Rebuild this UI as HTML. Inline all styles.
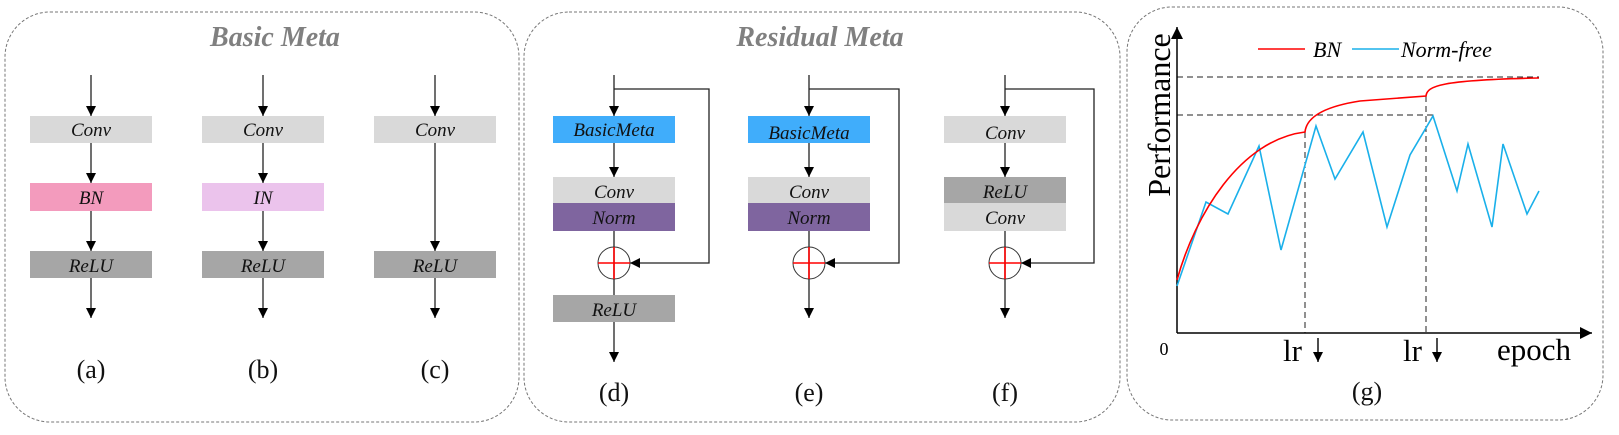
<!DOCTYPE html>
<html><head><meta charset="utf-8"><style>
html,body{margin:0;padding:0;background:#fff;}
svg{display:block;}
text{font-family:"Liberation Serif",serif;}
.bt{font-style:italic;font-size:19px;text-anchor:middle;fill:#111;}
.lb{font-size:26px;text-anchor:middle;fill:#111;}
.tt{font-style:italic;font-weight:bold;font-size:28px;text-anchor:middle;fill:#808080;}
</style></head><body>
<svg width="1619" height="435" viewBox="0 0 1619 435" xmlns="http://www.w3.org/2000/svg">
<defs>
<marker id="ah" viewBox="0 0 10 10" refX="10" refY="5" markerWidth="10" markerHeight="11" markerUnits="userSpaceOnUse" orient="auto"><path d="M0,0 L10,5 L0,10 z" fill="#000"/></marker>
<marker id="ah2" viewBox="0 0 10 10" refX="10" refY="5" markerWidth="13" markerHeight="12" markerUnits="userSpaceOnUse" orient="auto"><path d="M0,0 L10,5 L0,10 z" fill="#000"/></marker>
</defs>
<g fill="none" stroke="#777" stroke-width="1" stroke-dasharray="3,2">
<rect x="5" y="12" width="514" height="410" rx="45"/>
<rect x="524" y="12" width="596" height="410" rx="45"/>
<rect x="1127" y="7" width="476" height="413" rx="45"/>
</g>
<text class="tt" x="275" y="46">Basic Meta</text>
<text class="tt" x="820" y="46">Residual Meta</text>

<g stroke="#222" stroke-width="1.3" fill="none" marker-end="url(#ah)">
<line x1="91" y1="75" x2="91" y2="116"/><line x1="91" y1="143" x2="91" y2="183"/><line x1="91" y1="211" x2="91" y2="251"/><line x1="91" y1="278" x2="91" y2="318"/>
<line x1="263" y1="75" x2="263" y2="116"/><line x1="263" y1="143" x2="263" y2="183"/><line x1="263" y1="211" x2="263" y2="251"/><line x1="263" y1="278" x2="263" y2="318"/>
<line x1="435" y1="75" x2="435" y2="116"/><line x1="435" y1="143" x2="435" y2="251"/><line x1="435" y1="278" x2="435" y2="318"/>
</g>
<g>
<rect x="30" y="116" width="122" height="27" fill="#d9d9d9"/><text class="bt" x="91" y="136">Conv</text>
<rect x="30" y="183" width="122" height="28" fill="#f39bbd"/><text class="bt" x="91" y="204">BN</text>
<rect x="30" y="251" width="122" height="27" fill="#a6a6a6"/><text class="bt" x="91" y="272">ReLU</text>
<rect x="202" y="116" width="122" height="27" fill="#d9d9d9"/><text class="bt" x="263" y="136">Conv</text>
<rect x="202" y="183" width="122" height="28" fill="#ebc3ec"/><text class="bt" x="263" y="204">IN</text>
<rect x="202" y="251" width="122" height="27" fill="#a6a6a6"/><text class="bt" x="263" y="272">ReLU</text>
<rect x="374" y="116" width="122" height="27" fill="#d9d9d9"/><text class="bt" x="435" y="136">Conv</text>
<rect x="374" y="251" width="122" height="27" fill="#a6a6a6"/><text class="bt" x="435" y="272">ReLU</text>
</g>
<text class="lb" x="91" y="378">(a)</text>
<text class="lb" x="263" y="378">(b)</text>
<text class="lb" x="435" y="378">(c)</text>

<g stroke="#222" stroke-width="1.3" fill="none">
<line x1="614" y1="75" x2="614" y2="116" marker-end="url(#ah)"/>
<polyline points="614,89 709,89 709,263 630,263" marker-end="url(#ah)"/>
<line x1="614" y1="143" x2="614" y2="177" marker-end="url(#ah)"/>
<line x1="614" y1="231" x2="614" y2="295"/>
<line x1="614" y1="322" x2="614" y2="362" marker-end="url(#ah)"/>
<line x1="809" y1="75" x2="809" y2="116" marker-end="url(#ah)"/>
<polyline points="809,89 899,89 899,263 825,263" marker-end="url(#ah)"/>
<line x1="809" y1="143" x2="809" y2="177" marker-end="url(#ah)"/>
<line x1="809" y1="231" x2="809" y2="318" marker-end="url(#ah)"/>
<line x1="1005" y1="75" x2="1005" y2="116" marker-end="url(#ah)"/>
<polyline points="1005,89 1094,89 1094,263 1021,263" marker-end="url(#ah)"/>
<line x1="1005" y1="143" x2="1005" y2="177" marker-end="url(#ah)"/>
<line x1="1005" y1="231" x2="1005" y2="318" marker-end="url(#ah)"/>
</g>
<g>
<rect x="553" y="116" width="122" height="27" fill="#40adfb"/><text class="bt" x="614" y="136">BasicMeta</text>
<rect x="553" y="177" width="122" height="26" fill="#d9d9d9"/><text class="bt" x="614" y="198">Conv</text>
<rect x="553" y="203" width="122" height="28" fill="#7f659f"/><text class="bt" x="614" y="224">Norm</text>
<rect x="553" y="295" width="122" height="27" fill="#a6a6a6"/><text class="bt" x="614" y="316">ReLU</text>
<rect x="748" y="116" width="122" height="27" fill="#40adfb"/><text class="bt" x="809" y="139">BasicMeta</text>
<rect x="748" y="177" width="122" height="26" fill="#d9d9d9"/><text class="bt" x="809" y="198">Conv</text>
<rect x="748" y="203" width="122" height="28" fill="#7f659f"/><text class="bt" x="809" y="224">Norm</text>
<rect x="944" y="116" width="122" height="27" fill="#d9d9d9"/><text class="bt" x="1005" y="139">Conv</text>
<rect x="944" y="177" width="122" height="26" fill="#a6a6a6"/><text class="bt" x="1005" y="198">ReLU</text>
<rect x="944" y="203" width="122" height="28" fill="#d9d9d9"/><text class="bt" x="1005" y="224">Conv</text>
</g>
<g fill="none">
<circle cx="614" cy="263" r="16" stroke="#333" stroke-width="1"/><line x1="598" y1="263" x2="630" y2="263" stroke="#f00" stroke-width="1.6"/><line x1="614" y1="247" x2="614" y2="279" stroke="#f00" stroke-width="1.6"/>
<circle cx="809" cy="263" r="16" stroke="#333" stroke-width="1"/><line x1="793" y1="263" x2="825" y2="263" stroke="#f00" stroke-width="1.6"/><line x1="809" y1="247" x2="809" y2="279" stroke="#f00" stroke-width="1.6"/>
<circle cx="1005" cy="263" r="16" stroke="#333" stroke-width="1"/><line x1="989" y1="263" x2="1021" y2="263" stroke="#f00" stroke-width="1.6"/><line x1="1005" y1="247" x2="1005" y2="279" stroke="#f00" stroke-width="1.6"/>
</g>
<text class="lb" x="614" y="401">(d)</text>
<text class="lb" x="809" y="401">(e)</text>
<text class="lb" x="1005" y="401">(f)</text>

<g stroke="#222" stroke-width="1" stroke-dasharray="6,4" fill="none">
<line x1="1177" y1="77" x2="1539" y2="77"/>
<line x1="1177" y1="115" x2="1433" y2="115"/>
<line x1="1305" y1="132" x2="1305" y2="333"/>
<line x1="1426" y1="96" x2="1426" y2="333"/>
</g>
<g stroke="#000" stroke-width="1.5" fill="none">
<line x1="1177" y1="333" x2="1177" y2="27" marker-end="url(#ah2)"/>
<line x1="1177" y1="333" x2="1592" y2="333" marker-end="url(#ah2)"/>
</g>
<polyline fill="none" stroke="#1ab0ea" stroke-width="1.6" points="1177,286 1206,202 1228,214 1259,146 1281,250 1316,126 1335,179 1363,132 1387,227 1410,155 1433,116 1457,191 1468,144 1492,227 1503,144 1527,214 1539,191"/>
<path fill="none" stroke="#f00" stroke-width="1.6" d="M1177,280 C1195,215 1240,140 1305,132 C1306,122 1315,108 1360,101 L1426,96 C1427,86 1440,80 1539,78"/>
<line x1="1258" y1="49" x2="1305" y2="49" stroke="#f00" stroke-width="1.6"/>
<text x="1313" y="57" style="font-style:italic;font-size:22px">BN</text>
<line x1="1352" y1="49" x2="1399" y2="49" stroke="#1ab0ea" stroke-width="1.6"/>
<text x="1401" y="57" style="font-style:italic;font-size:22px">Norm-free</text>
<text transform="translate(1170,115) rotate(-90)" style="font-size:32px;text-anchor:middle">Performance</text>
<text x="1164" y="355" style="font-size:18px;text-anchor:middle">0</text>
<text x="1283" y="361" style="font-size:31px">lr</text>
<text x="1403" y="361" style="font-size:31px">lr</text>
<line x1="1318" y1="338" x2="1318" y2="362" stroke="#000" stroke-width="1.4" marker-end="url(#ah)"/>
<line x1="1437" y1="338" x2="1437" y2="362" stroke="#000" stroke-width="1.4" marker-end="url(#ah)"/>
<text x="1497" y="360" style="font-size:31px">epoch</text>
<text class="lb" x="1367" y="400">(g)</text>
</svg>
</body></html>
